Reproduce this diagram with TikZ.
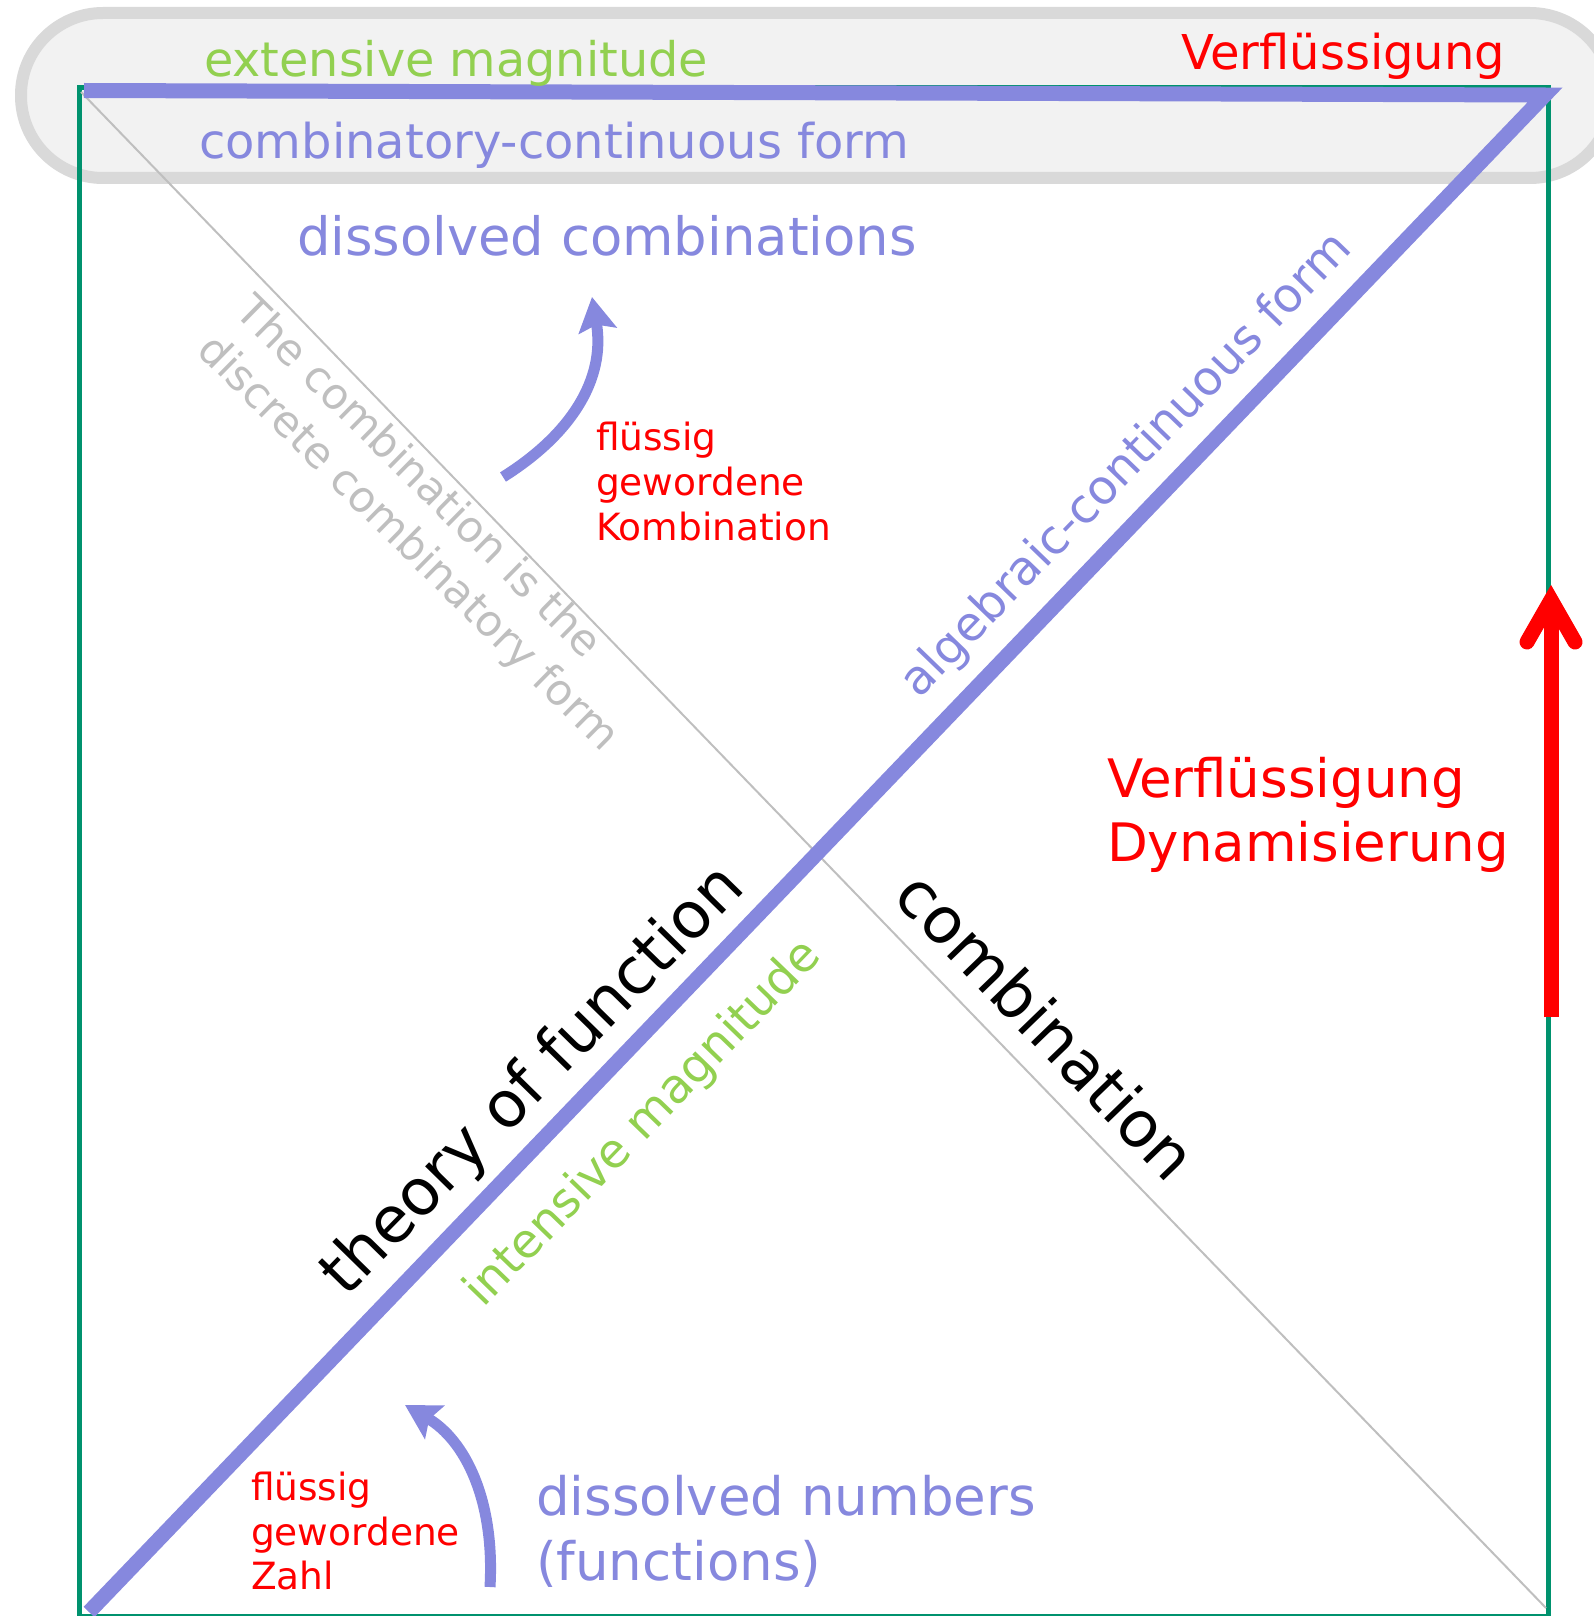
\documentclass[tikz,border=0pt]{standalone}
\usepackage{fontspec}
\setmainfont{DejaVu Sans}
\usetikzlibrary{arrows.meta}
\definecolor{cblue}{RGB}{134,136,222}
\definecolor{cgreen}{RGB}{146,208,80}
\definecolor{cframe}{RGB}{0,146,110}
\definecolor{cred}{RGB}{255,0,0}
\definecolor{cgrayline}{RGB}{191,191,191}
\definecolor{cpillfill}{RGB}{242,242,242}
\definecolor{cpilldraw}{RGB}{217,217,217}
\tikzset{
  pill/.style={line width=12pt, draw=cpilldraw, fill=cpillfill, rounded corners=82pt},
  frameline/.style={line width=5pt, draw=cframe},
  thinline/.style={line width=2pt, draw=cgrayline},
  bigblue/.style={line width=15pt, draw=cblue, line join=miter},
  curvearrow/.style={line width=11pt, draw=cblue, -{Stealth[length=34pt,width=38pt,inset=6pt]}},
  redshaft/.style={line width=15pt, draw=cred},
  redhead/.style={line width=15pt, draw=cred, line cap=round, line join=miter},
  lbl/.style={inner sep=0pt, outer sep=0pt},
  fsmall/.style={lbl, font=\fontsize{37.5}{45}\selectfont},
  fmed/.style={lbl, font=\fontsize{48}{57}\selectfont},
  fdiag/.style={lbl, font=\fontsize{47.5}{57}\selectfont},
  flarge/.style={lbl, font=\fontsize{53}{63}\selectfont},
  fhuge/.style={lbl, font=\fontsize{64}{76}\selectfont},
}
\begin{document}
\begin{tikzpicture}[x=1pt,y=-1pt]
\useasboundingbox (0,0) rectangle (1594,1616);
% background pill
\draw[pill] (21,13) rectangle (1612,178);
% frame
\coordinate (FTL) at (79,88);
\coordinate (FBR) at (1548,1616);
\draw[frameline] (FTL) rectangle (FBR);
% thin grey diagonal
\coordinate (GTL) at (81,92);
\coordinate (GBR) at (1546,1608);
\draw[thinline] (GTL) -- (GBR);
% thick blue lines
\coordinate (BTL) at (84,90.5);
\coordinate (BTR) at (1545,95);
\coordinate (BBL) at (89,1612);
\draw[bigblue] (BTL) -- (BTR) -- (BBL);
% top texts
\node[lbl, font=\fontsize{47.7}{57}\selectfont, text=cgreen, anchor=base west] (ext) at (204,77) {extensive magnitude};
\node[fmed, text=cred, anchor=base west] (verftop) at (1181,70) {Verflüssigung};
\node[fmed, text=cblue, anchor=base west] (combcont) at (199,159) {combinatory-continuous form};
\node[lbl, font=\fontsize{52.8}{63}\selectfont, text=cblue, anchor=base west] (dissc) at (297,255) {dissolved combinations};
% flüssig gewordene Kombination
\node[fsmall, text=cred, anchor=base west] (fk1) at (596,450) {flüssig};
\node[fsmall, text=cred, anchor=base west] (fk2) at (596,495) {gewordene};
\node[fsmall, text=cred, anchor=base west] (fk3) at (596,540) {Kombination};
% right texts
\node[flarge, text=cred, anchor=base west] (vd1) at (1107,797) {Verflüssigung};
\node[flarge, text=cred, anchor=base west] (vd2) at (1107,861) {Dynamisierung};
% bottom texts
\node[fsmall, text=cred, anchor=base west] (fz1) at (251,1500) {flüssig};
\node[fsmall, text=cred, anchor=base west] (fz2) at (251,1545) {gewordene};
\node[fsmall, text=cred, anchor=base west] (fz3) at (251,1589) {Zahl};
\node[flarge, text=cblue, anchor=base west] (dn1) at (536,1515) {dissolved numbers};
\node[flarge, text=cblue, anchor=base west] (dn2) at (536,1580) {(functions)};
% rotated texts
\node[fhuge, text=black, rotate=45.6] (tof) at (533.6,1082) {theory of function};
\node[fdiag, text=cgreen, rotate=46] (intm) at (644,1124) {intensive magnitude};
\node[fhuge, text=black, rotate=-46] (comb) at (1047,1025) {combination};
\node[fdiag, text=cblue, rotate=46] (algc) at (1127,466) {algebraic-continuous form};
\node[lbl, font=\fontsize{43}{54}\selectfont, text=cgrayline, rotate=-44.6, align=left, anchor=south west] (disc) at (189.6,358.6) {The combination is the\\discrete combinatory form};
% curved arrows
\coordinate (a1s) at (503,477);
\coordinate (a1e) at (592,297);
\draw[curvearrow] (a1s) .. controls (570,435) and (606,380) .. (a1e);
\coordinate (a2s) at (490,1587);
\coordinate (a2e) at (405,1405);
\draw[curvearrow] (a2s) .. controls (495,1500) and (465,1440) .. (a2e);
% red arrow
\coordinate (rb) at (1551,1017);
\coordinate (rt) at (1551,600);
\coordinate (ra1) at (1527,642);
\coordinate (ra2) at (1575,642);
\draw[redshaft] (rb) -- (rt);
\draw[redhead] (ra1) -- (rt) -- (ra2);
\end{tikzpicture}
\end{document}
